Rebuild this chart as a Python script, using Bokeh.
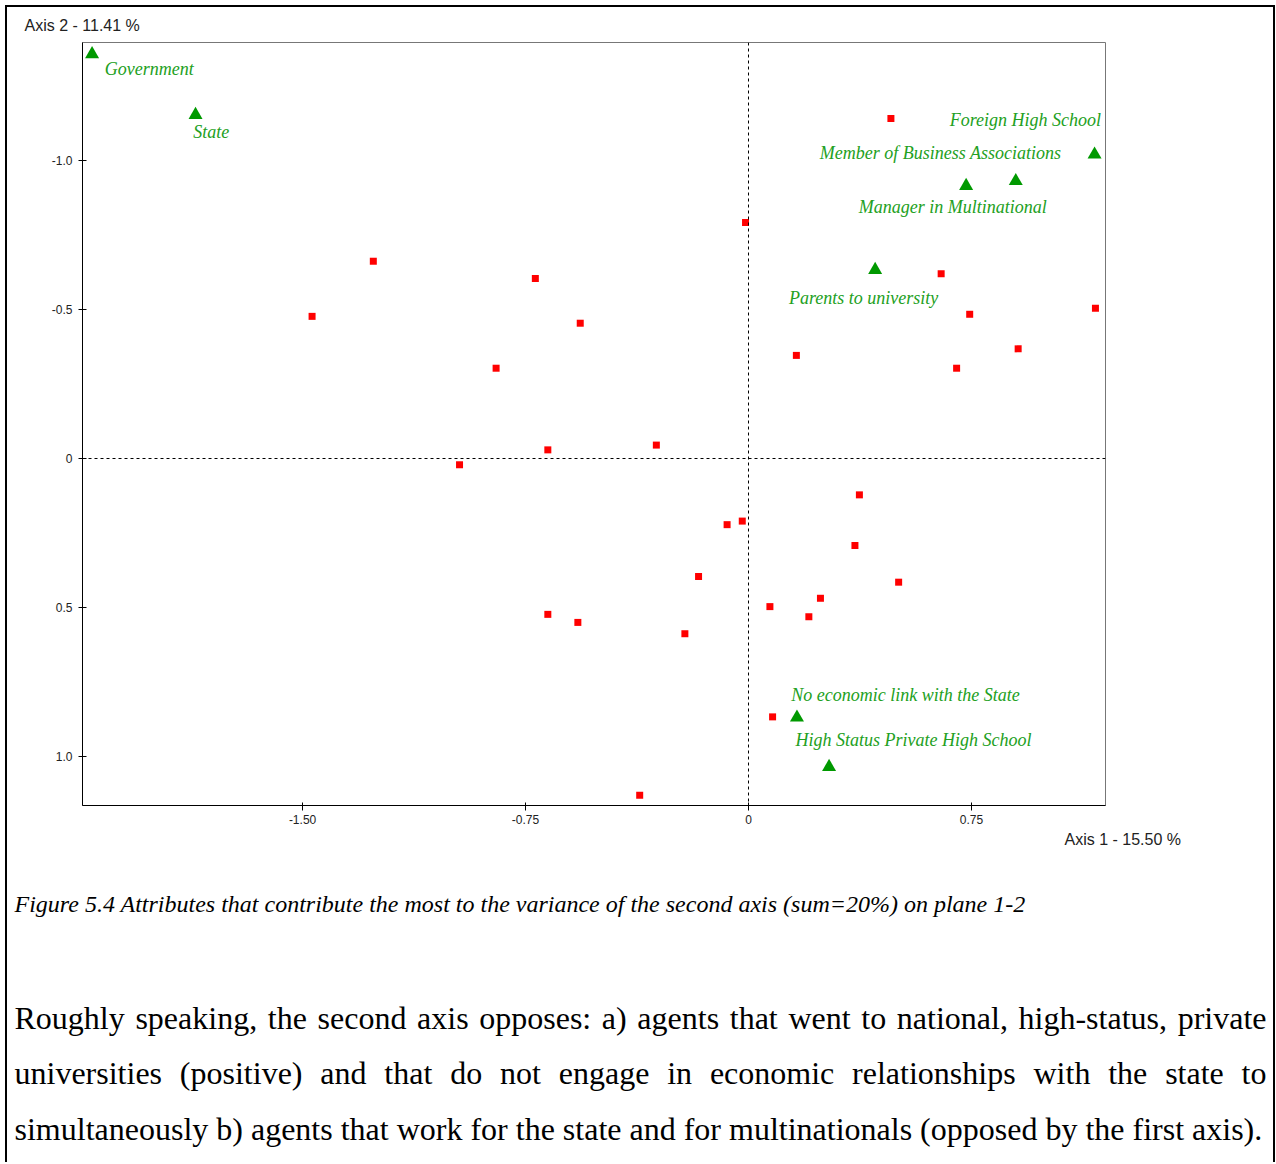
from bokeh.plotting import figure
from bokeh.layouts import column
from bokeh.models import (Range1d, FixedTicker, CustomJSTickFormatter, Span, Label,
                          LabelSet, ColumnDataSource)
from bokeh.embed import file_html
from bokeh.resources import INLINE
from bokeh.core.properties import value

# ---------------- data ----------------
obs_x = [0.479, -0.010, -1.262, -0.717, -1.468, -0.566, 0.648, 0.744, 1.167, 0.161,
         0.907, 0.700, -0.849, -0.310, -0.675, -0.972, 0.373, -0.021, -0.072, 0.358,
         -0.168, 0.505, 0.242, 0.072, -0.675, 0.203, -0.574, -0.214, 0.081, -0.366]
obs_y = [-1.141, -0.792, -0.662, -0.604, -0.477, -0.454, -0.620, -0.484, -0.504, -0.346,
         -0.368, -0.303, -0.303, -0.045, -0.029, 0.021, 0.122, 0.210, 0.222, 0.292,
         0.396, 0.415, 0.469, 0.497, 0.523, 0.531, 0.550, 0.588, 0.867, 1.130]

attr_names = ["Government", "State", "Foreign High School",
              "Member of Business Associations", "Manager in Multinational",
              "Parents to university", "No economic link with the State",
              "High Status Private High School"]
attr_x = [-2.208, -1.860, 1.164, 0.899, 0.732, 0.426, 0.163, 0.271]
attr_y = [-1.357, -1.153, -1.020, -0.931, -0.915, -0.633, 0.869, 1.035]
attr_label_x = [-2.165, -1.868, 0.677, 0.240, 0.371, 0.136, 0.144, 0.158]
attr_label_y = [-1.308, -1.097, -1.137, -1.026, -0.843, -0.537, 0.795, 0.946]

x_ticks = [-1.5, -0.75, 0, 0.75]
y_ticks = [-1.0, -0.5, 0, 0.5, 1.0]
x_axis_title = "Axis 1  -  15.50 %"
y_axis_title = "Axis 2  -  11.41 %"
caption = ("Figure 5.4 Attributes that contribute the most to the variance of the "
           "second axis (sum=20%) on plane 1-2")
paragraph_lines = [
    "Roughly speaking, the second axis opposes: a) agents that went to national, high-status, private",
    "universities (positive) and that do not engage in economic relationships with the state to",
    "simultaneously b) agents that work for the state and for multinationals (opposed by the first axis).",
]

# ---------------- page geometry (page pixels) ----------------
PW = 1276
TOP_H = 36             # strip above the chart (axis-2 title)
MAIN_BOTTOM = 831      # end of the chart figure
PAGE_H = 1162
FL, FR, FT, FB = 82, 1105, 42, 805     # plot frame edges on the page
X0, X1 = -2.2402, 1.2008
YT, YB = -1.3960, 1.1644               # inverted y axis (negative on top)


def text_strip(y0, y1):
    """A figure whose frame is the whole canvas; data units == page pixels."""
    f = figure(frame_width=PW, frame_height=y1 - y0, output_backend="svg",
               toolbar_location=None, frame_align=False,
               x_range=Range1d(0, PW), y_range=Range1d(y1, y0),
               x_axis_location=None, y_axis_location=None,
               min_border=0, min_border_left=0, min_border_right=0,
               min_border_top=0, min_border_bottom=0,
               background_fill_color=None, border_fill_color=None)
    f.grid.visible = False
    f.outline_line_color = None
    return f


# ---- top strip ----
ptop = text_strip(0, TOP_H)
ptop.add_layout(Label(x=24, y=25, text=y_axis_title, text_font="Liberation Sans",
                      text_font_size="16px", text_color="#222222",
                      text_align="left", text_baseline="middle"))

# ---- main chart ----
main_h = MAIN_BOTTOM - TOP_H
p = figure(width=PW, height=main_h, output_backend="svg", toolbar_location=None,
           frame_align=False,
           x_range=Range1d(X0, X1), y_range=Range1d(YB, YT),
           min_border_left=FL, min_border_right=PW - FR,
           min_border_top=FT - TOP_H, min_border_bottom=MAIN_BOTTOM - FB,
           background_fill_color="white", border_fill_color=None)
p.grid.visible = False
p.outline_line_color = "#777777"
p.outline_line_width = 1

for ax in (p.xaxis, p.yaxis):
    ax.axis_line_color = "black"
    ax.major_tick_line_color = "black"
    ax.minor_tick_line_color = None
    ax.major_label_text_font = "Liberation Sans"
    ax.major_label_text_font_size = "12px"
    ax.major_label_text_color = "#222222"

p.xaxis.ticker = FixedTicker(ticks=x_ticks)
p.yaxis.ticker = FixedTicker(ticks=y_ticks)
p.xaxis.formatter = CustomJSTickFormatter(code="return tick == 0 ? '0' : tick.toFixed(2);")
p.yaxis.formatter = CustomJSTickFormatter(code="return tick == 0 ? '0' : tick.toFixed(1);")
p.xaxis.major_tick_in = 3
p.xaxis.major_tick_out = 5
p.xaxis.major_label_standoff = 4
p.yaxis.major_tick_in = 4
p.yaxis.major_tick_out = 4
p.yaxis.major_label_standoff = 6

p.add_layout(Span(location=0, dimension="height", line_color="black",
                  line_width=1, line_dash="3 3"))
p.add_layout(Span(location=0, dimension="width", line_color="black",
                  line_width=1, line_dash="3 3"))

p.scatter(obs_x, obs_y, marker="square", size=7, fill_color="#ff0000", line_color=None)
p.scatter(attr_x, attr_y, marker="triangle", size=14, fill_color="#009900", line_color=None)

lab_src = ColumnDataSource(dict(x=attr_label_x, y=attr_label_y, text=attr_names))
p.add_layout(LabelSet(x="x", y="y", text="text", source=lab_src,
                      text_font=value("Liberation Serif"), text_font_style="italic",
                      text_font_size=value("18px"), text_color="#22a022",
                      text_align="left", text_baseline="middle"))

# ---- bottom strip: axis-1 title, caption, paragraph ----
pbot = text_strip(MAIN_BOTTOM, PAGE_H)
pbot.add_layout(Label(x=1064, y=839, text=x_axis_title, text_font="Liberation Sans",
                      text_font_size="16px", text_color="#222222",
                      text_align="left", text_baseline="middle"))
pbot.add_layout(Label(x=14, y=903, text=caption, text_font="Liberation Serif",
                      text_font_style="italic", text_font_size="24px", text_color="black",
                      text_align="left", text_baseline="middle"))

TIMES = {" ": 250, "(": 333, ")": 333, ",": 250, "-": 333, ".": 250, ":": 278,
         "a": 444, "b": 500, "c": 444, "d": 500, "e": 444, "f": 333, "g": 500,
         "h": 500, "i": 278, "j": 278, "k": 500, "l": 278, "m": 778, "n": 500,
         "o": 500, "p": 500, "q": 500, "r": 333, "s": 389, "t": 278, "u": 500,
         "v": 500, "w": 722, "x": 500, "y": 500, "z": 444, "R": 667}
PSIZE = 32


def tw(s):
    return sum(TIMES.get(ch, 500) for ch in s) * PSIZE / 1000.0


def body_label(x, y, text, align):
    pbot.add_layout(Label(x=x, y=y, text=text, text_font="Liberation Serif",
                          text_font_size=f"{PSIZE}px", text_color="black",
                          text_align=align, text_baseline="middle"))


line_y = [1017, 1072, 1128]
left_edge, right_edge = 14, 1266
for i, line in enumerate(paragraph_lines):
    if i == len(paragraph_lines) - 1:
        body_label(left_edge, line_y[i], line, "left")
        continue
    words = line.split(" ")
    widths = [tw(w) for w in words]
    gap = (right_edge - left_edge - sum(widths)) / (len(words) - 1)
    pos = left_edge
    for j, w in enumerate(words):
        if j == len(words) - 1:
            body_label(right_edge, line_y[i], w, "right")
        else:
            body_label(pos, line_y[i], w, "left")
        pos += widths[j] + gap

layout = column(ptop, p, pbot, spacing=0,
                styles={"box-shadow": ("inset 5px 5px 0 0 white, inset -1px 0 0 0 white, "
                                       "inset 7px 7px 0 0 black, inset -3px 0 0 0 black")})

open("out.html", "w").write(file_html(layout, INLINE))
